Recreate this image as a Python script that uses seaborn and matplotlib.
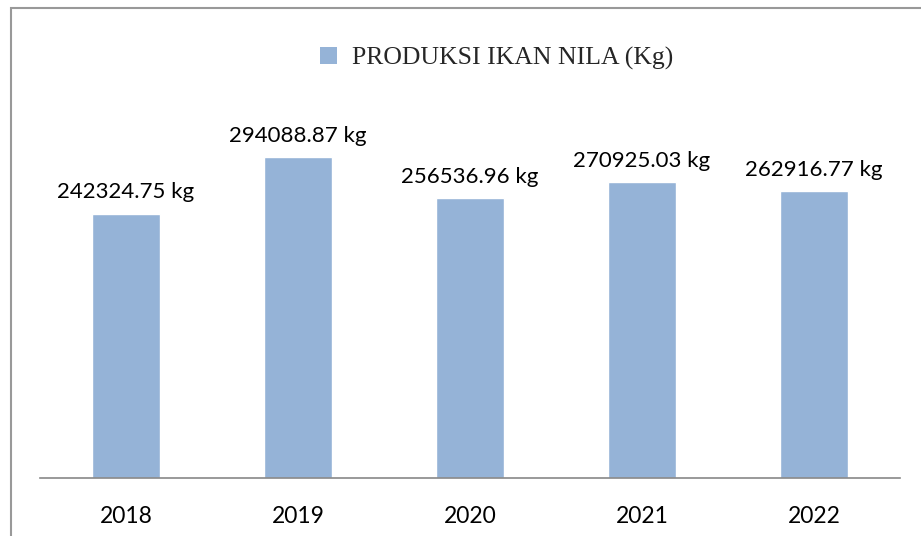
import matplotlib
matplotlib.use("Agg")
import matplotlib.pyplot as plt
import seaborn as sns
import pandas as pd
from matplotlib.patches import Rectangle

years = ["2018", "2019", "2020", "2021", "2022"]
production = [242324.75, 294088.87, 256536.96, 270925.03, 262916.77]
labels = ["242324.75 kg", "294088.87 kg", "256536.96 kg", "270925.03 kg", "262916.77 kg"]
series_name = "PRODUKSI IKAN NILA (Kg)"

df = pd.DataFrame({"year": years, "value": production})

sns.set_theme(style="white")
plt.rcParams["font.family"] = ["Lato", "DejaVu Sans"]

W, H = 921, 536
fig = plt.figure(figsize=(W / 100, H / 100), dpi=100)
ax = fig.add_axes([40 / W, (H - 478) / H, 860 / W, (478 - 96) / H])

color = "#95B3D7"
sns.barplot(data=df, x="year", y="value", color=color, width=0.4,
            saturation=1, ax=ax)
ax.set_ylim(0, 350000)
ax.set_xlim(-0.5, 4.5)

for i, (v, t) in enumerate(zip(production, labels)):
    ax.annotate(t, (i, v), xytext=(0, 8), textcoords="offset points",
                ha="center", va="bottom", fontsize=16, color="#000000")

for s in ["top", "right", "left"]:
    ax.spines[s].set_visible(False)
ax.spines["bottom"].set_color("#888888")
ax.spines["bottom"].set_linewidth(1.2)
ax.set_yticks([])
ax.set_xlabel("")
ax.set_ylabel("")
ax.tick_params(axis="x", length=0, pad=20, labelsize=16.5, colors="#000000")

# legend
handle = Rectangle((0, 0), 1, 1, facecolor=color, edgecolor="none")
leg = fig.legend([handle], [series_name], loc="center",
                 bbox_to_anchor=(497 / W, 1 - 58 / H), frameon=False,
                 prop={"family": "Liberation Serif", "size": 18.5},
                 handlelength=0.65, handleheight=0.65, handletextpad=0.6)

# outer border
fig.patches.append(Rectangle((11 / W, -0.1), 1.2, 1 - 8 / H + 0.1,
                             transform=fig.transFigure, fill=False,
                             edgecolor="#999999", linewidth=1.5))

fig.savefig("out.png", dpi=100)
